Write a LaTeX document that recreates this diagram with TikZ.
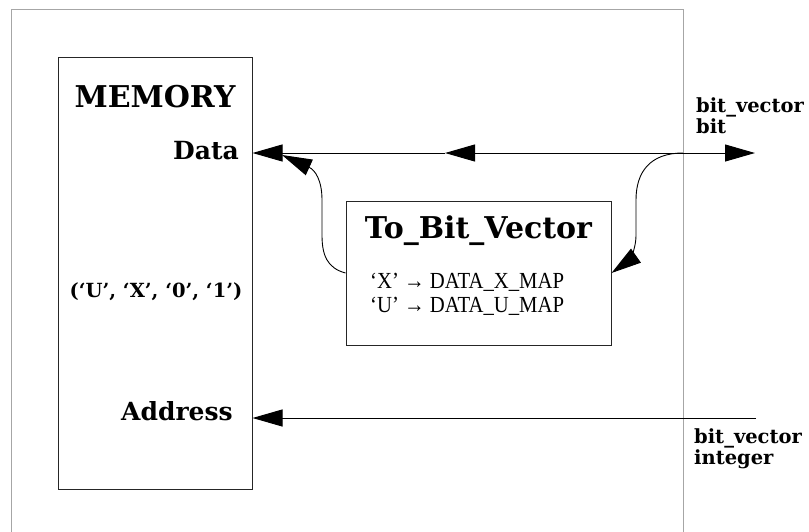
\documentclass[tikz,border=0pt]{standalone}
\usepackage{fontspec}
\setmainfont{DejaVu Serif}
\newfontfamily\mapfont[FakeStretch=0.9]{Liberation Serif}
\usepackage{tikz}
\usetikzlibrary{calc}
\usetikzlibrary{arrows.meta}
\usetikzlibrary{positioning}

\begin{document}
\begin{tikzpicture}[x=1pt,y=-1pt]
  \tikzset{
    membox/.style={draw, rectangle, line width=1pt, draw=black!85, minimum width=194pt, minimum height=432pt, inner sep=0pt},
    conv/.style={draw, rectangle, line width=1pt, draw=black!85, minimum width=265pt, minimum height=144pt, inner sep=0pt},
    title/.style={font=\bfseries\fontsize{30}{34}\selectfont, inner sep=0pt},
    port/.style={font=\bfseries\fontsize{25}{28}\selectfont, inner sep=0pt},
    ext/.style={font=\bfseries\fontsize{19.5}{21}\selectfont, align=left, inner sep=0pt},
    map/.style={font=\mapfont\fontsize{23}{24}\selectfont, align=left, inner sep=0pt},
    line/.style={draw, line width=1pt, -{Triangle[length=30pt,width=17pt]}},
    wire/.style={draw, line width=0.9pt, -{Triangle[length=30pt,width=17pt]}},
  }
  \useasboundingbox (0,0) rectangle (809,531);
  % outer boundary
  \draw[black!35, line width=1pt] (11,540) -- (11,9) -- (683,9) -- (683,540);

  \node [membox] (mem) at (155,273) {};
  \node [title] (memname) at (155,97) {MEMORY};
  \node [port, anchor=east] (data) at (239,151) {Data};
  \node [port, font=\bfseries\fontsize{19.5}{22}\selectfont] (vals) at (156,292) {(‘U’, ‘X’, ‘0’, ‘1’)};
  \node [port, anchor=east] (addr) at (233,411) {Address};

  \node [conv] (tbv) at (478.5,273) {};
  \node [title] (tbvname) at (478.5,231) {To\_Bit\_Vector};
  \node [map, anchor=west] (maps) at (370,294) {‘X’ → DATA\_X\_MAP\\‘U’ → DATA\_U\_MAP};

  \node [ext, anchor=west] (dtype) at (696,116) {bit\_vector\\bit};
  \node [ext, anchor=west] (atype) at (694,449) {bit\_vector\\integer};

  \coordinate (dj) at (683,153);
  \coordinate (dout) at (755,153);
  \coordinate (dmid) at (445,153);
  \coordinate (dmerge) at (282,155);
  \coordinate (ain) at (756,418);

  \path [line] (dj) -- (dout);
  \path [line] (dj) -- (dmid);
  \path [line] (dmid) -- (mem.east |- dj);
  \path [line] (ain) -- (mem.east |- ain);

  \path [wire] (dj) .. controls (650,153) and (636,172) .. (636,200)
    -- (636,235) .. controls (636,252) and (627,262) .. (tbv.east);
  \path [wire] (tbv.west) .. controls (327,268) and (322,255) .. (322,235)
    -- (322,200) .. controls (322,180) and (315,170) .. (dmerge);
\end{tikzpicture}
\end{document}
